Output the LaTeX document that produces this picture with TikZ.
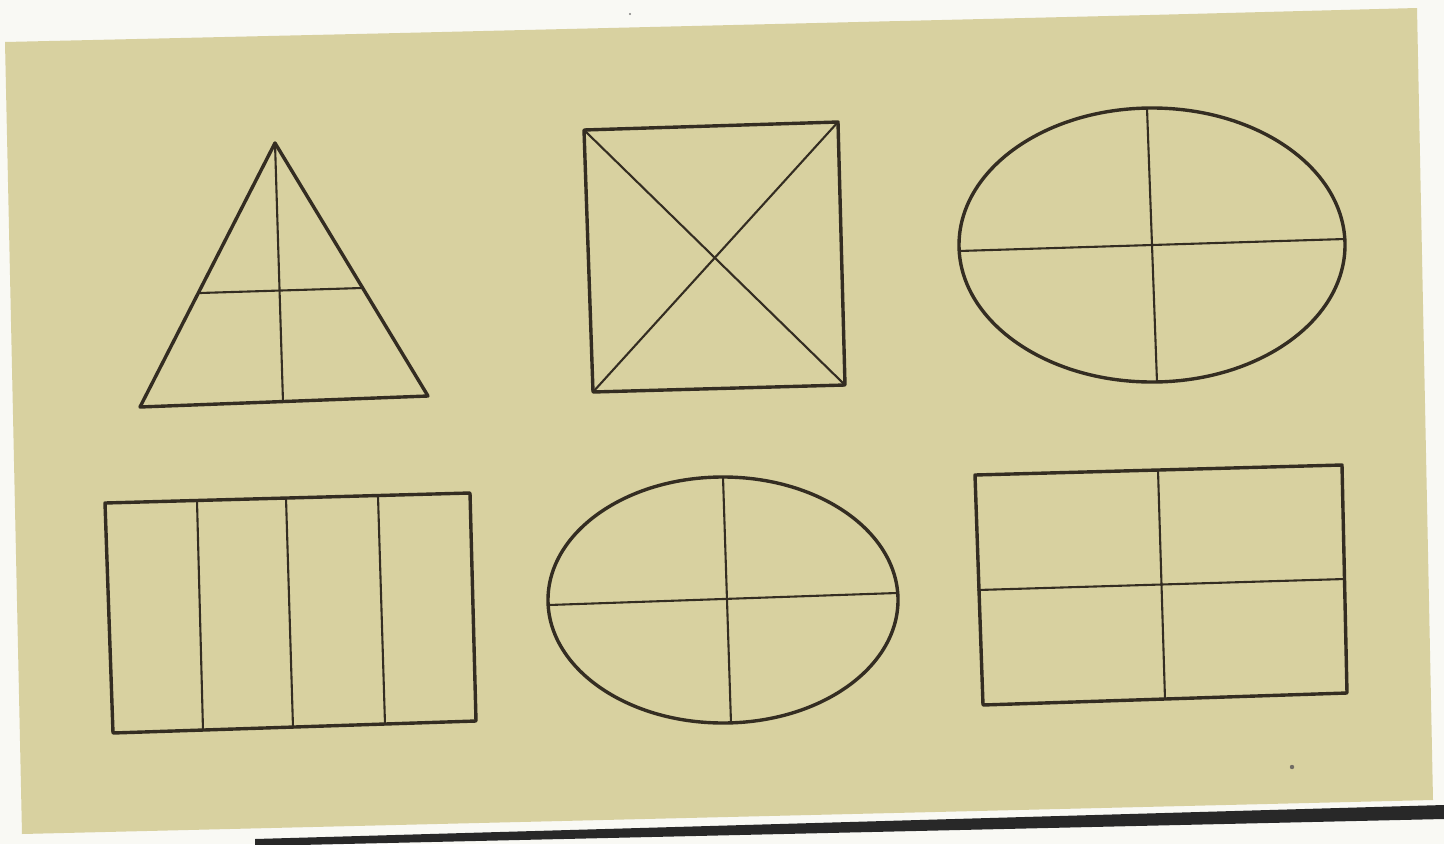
\documentclass[tikz,border=0pt]{standalone}
\definecolor{paper}{RGB}{249,249,244}
\definecolor{panel}{RGB}{216,209,160}
\definecolor{ink}{RGB}{52,45,34}
\definecolor{bar}{RGB}{40,40,40}
\tikzset{
  outline/.style={draw=ink, line width=3.4pt, line join=round, line cap=round},
  divider/.style={draw=ink, line width=2.1pt, line cap=round},
}
\begin{document}
\begin{tikzpicture}[x=1pt,y=-1pt]
\useasboundingbox (0,0) rectangle (1444,844);
\fill[paper] (0,0) rectangle (1444,844);
% panel
\fill[panel] (5,42) -- (400,33) -- (1150,15) -- (1417,8) -- (1433,800) -- (22,834) -- cycle;
% bottom rule
\fill[bar] (255,839) -- (1444,805) -- (1444,819) -- (255,846) -- cycle;
% small specks
\fill[ink!70] (1292,767) circle (2.2);
\fill[gray] (630,14) circle (1.2);

% triangle
\coordinate (tA) at (275,143);
\coordinate (tL) at (140,407);
\coordinate (tR) at (428,396);
\coordinate (tB) at (283,402);
\coordinate (tHL) at (200,293);
\coordinate (tHR) at (362,288);
\draw[outline] (tA) -- (tL) -- (tR) -- cycle;
\draw[divider] (tA) -- (tB);
\draw[divider] (tHL) -- (tHR);

% square with diagonals
\coordinate (sTL) at (584,130);
\coordinate (sTR) at (838,122);
\coordinate (sBR) at (845,385);
\coordinate (sBL) at (593,392);
\draw[outline] (sTL) -- (sTR) -- (sBR) -- (sBL) -- cycle;
\draw[divider] (sTL) -- (sBR);
\draw[divider] (sTR) -- (sBL);

% ellipse top right
\coordinate (e1) at (1152,245);
\draw[outline] (e1) ellipse [x radius=193, y radius=137];
\coordinate (e1T) at (1147,108);
\coordinate (e1B) at (1157,382);
\coordinate (e1L) at (959,251);
\coordinate (e1R) at (1345,239);
\draw[divider] (e1T) -- (e1B);
\draw[divider] (e1L) -- (e1R);

% striped rectangle
\coordinate (rTL) at (105,503);
\coordinate (rTR) at (470,493);
\coordinate (rBR) at (476,721);
\coordinate (rBL) at (113,733);
\draw[outline] (rTL) -- (rTR) -- (rBR) -- (rBL) -- cycle;
\coordinate (v1t) at (197,501); \coordinate (v1b) at (203,730);
\coordinate (v2t) at (286,498); \coordinate (v2b) at (293,727);
\coordinate (v3t) at (378,496); \coordinate (v3b) at (385,724);
\draw[divider] (v1t) -- (v1b);
\draw[divider] (v2t) -- (v2b);
\draw[divider] (v3t) -- (v3b);

% ellipse bottom middle
\coordinate (e2) at (723,600);
\draw[outline] (e2) ellipse [x radius=175, y radius=123];
\coordinate (e2T) at (723,477);
\coordinate (e2B) at (731,723);
\coordinate (e2L) at (549,605);
\coordinate (e2R) at (897,593);
\draw[divider] (e2T) -- (e2B);
\draw[divider] (e2L) -- (e2R);

% quartered rectangle
\coordinate (qTL) at (975,475);
\coordinate (qTR) at (1342,465);
\coordinate (qBR) at (1347,693);
\coordinate (qBL) at (983,705);
\draw[outline] (qTL) -- (qTR) -- (qBR) -- (qBL) -- cycle;
\coordinate (qVt) at (1158,470);
\coordinate (qVb) at (1165,699);
\coordinate (qHl) at (978,590);
\coordinate (qHr) at (1345,579);
\draw[divider] (qVt) -- (qVb);
\draw[divider] (qHl) -- (qHr);
\end{tikzpicture}
\end{document}
